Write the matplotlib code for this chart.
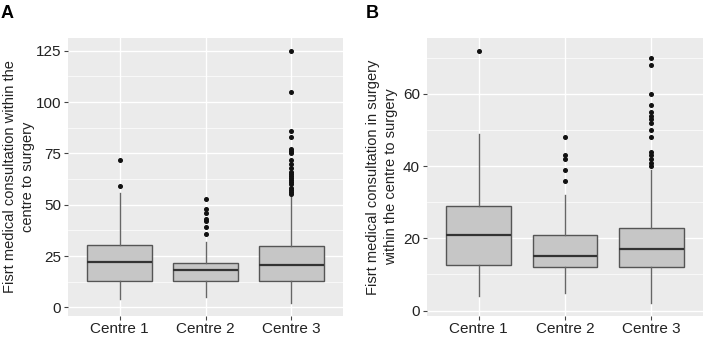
import matplotlib
matplotlib.use("Agg")
import matplotlib.pyplot as plt
from matplotlib.ticker import MultipleLocator

plt.rcParams['font.family'] = ['Liberation Sans', 'DejaVu Sans']

centres = ["Centre 1", "Centre 2", "Centre 3"]

# Panel A
a_q1 = [12.8, 12.8, 13.1]
a_med = [21.9, 18.0, 20.8]
a_q3 = [30.3, 21.7, 29.8]
a_lo = [3.9, 5.0, 2.0]
a_hi = [55.8, 31.8, 54.0]
a_out = [
    [59, 72],
    [36, 39, 42, 43, 46, 48, 53],
    [55, 56, 57, 58, 60, 61, 62, 63, 64, 65, 66, 68, 70, 72, 75, 76, 77, 83, 86, 105, 125],
]
# Panel B
b_q1 = [12.6, 12.1, 12.0]
b_med = [21.0, 15.0, 17.0]
b_q3 = [29.0, 21.0, 23.0]
b_lo = [4.0, 5.0, 2.0]
b_hi = [49.0, 32.0, 39.0]
b_out = [
    [72],
    [36, 39, 42, 43, 48],
    [40, 41, 42, 43, 44, 48, 50, 52, 53, 54, 55, 57, 60, 68, 70],
]

a_ticks = [0, 25, 50, 75, 100, 125]
b_ticks = [0, 20, 40, 60]
a_ylabel = "Fisrt medical consultation within the\ncentre to surgery"
b_ylabel = "Fisrt medical consultation in surgery\nwithin the centre to surgery"

W, H = 706, 337
fig = plt.figure(figsize=(W / 100, H / 100), dpi=100)


def make_panel(rect, q1, med, q3, lo, hi, out, ticks, minor, ylim, ylabel, label_x, letter, letter_x):
    ax = fig.add_axes(rect)
    ax.set_facecolor('#EBEBEB')
    stats = []
    for i in range(3):
        stats.append(dict(q1=q1[i], med=med[i], q3=q3[i], whislo=lo[i], whishi=hi[i], fliers=out[i]))
    ax.bxp(stats, positions=[1, 2, 3], widths=0.75, patch_artist=True, showcaps=False,
           boxprops=dict(facecolor='#C6C6C6', edgecolor='#555555', linewidth=1.0),
           medianprops=dict(color='#333333', linewidth=1.6),
           whiskerprops=dict(color='#666666', linewidth=1.0),
           flierprops=dict(marker='o', markersize=2.6, markerfacecolor='#111111',
                           markeredgecolor='#111111', linestyle='none'),
           zorder=3)
    ax.set_xlim(0.4, 3.6)
    ax.set_ylim(*ylim)
    ax.set_yticks(ticks)
    ax.yaxis.set_minor_locator(MultipleLocator(minor))
    ax.set_xticks([1, 2, 3])
    ax.set_xticklabels(centres)
    ax.grid(True, which='major', color='white', linewidth=1.0, zorder=0)
    ax.grid(True, which='minor', axis='y', color='white', linewidth=0.5, zorder=0)
    ax.set_axisbelow(True)
    for s in ax.spines.values():
        s.set_visible(False)
    ax.tick_params(axis='both', which='major', length=3, color='#444444', labelsize=11,
                   labelcolor='#222222', pad=2)
    ax.tick_params(axis='x', which='major', pad=1)
    ax.tick_params(axis='y', which='minor', length=0)
    ax.set_ylabel(ylabel, fontsize=10.5, color='#222222', linespacing=1.35)
    ax.yaxis.set_label_coords(label_x, 0.5)
    fig.text(letter_x, 1 - 13 / H, letter, fontsize=13, fontweight='bold', ha='left', va='center')
    return ax


make_panel([68 / W, 21 / H, 275 / W, 278 / H], a_q1, a_med, a_q3, a_lo, a_hi, a_out,
           a_ticks, 12.5, (-4.15, 131.15), a_ylabel, -0.12, "A", 1 / W)
make_panel([427 / W, 21 / H, 276 / W, 278 / H], b_q1, b_med, b_q3, b_lo, b_hi, b_out,
           b_ticks, 10, (-1.5, 75.5), b_ylabel, -0.105, "B", 366 / W)

fig.savefig("out.png", dpi=100)
